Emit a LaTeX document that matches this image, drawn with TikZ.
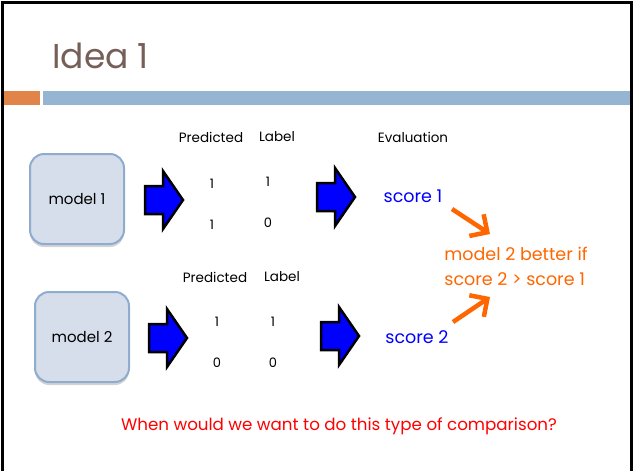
\documentclass[tikz,border=0pt]{standalone}
\usepackage{fontspec}
\setmainfont{Poppins}
\usetikzlibrary{shapes, arrows.meta, positioning, shadows}
\definecolor{titlegray}{RGB}{118,95,88}
\definecolor{barorange}{RGB}{224,132,74}
\definecolor{barblue}{RGB}{149,181,211}
\definecolor{boxfill}{RGB}{213,222,234}
\definecolor{boxline}{RGB}{143,172,206}
\definecolor{scoreblue}{RGB}{0,0,255}
\definecolor{noteorange}{RGB}{255,102,0}
\definecolor{askred}{RGB}{255,0,0}
\tikzstyle{model} = [draw=boxline, line width=2pt, fill=boxfill,
    rounded corners=14pt, minimum width=94pt, minimum height=90pt,
    drop shadow={shadow xshift=0pt, shadow yshift=-3pt, opacity=0.35},
    font=\fontsize{15}{17}\selectfont]
\tikzset{blockarrow/.pic={
    \draw [line width=2.5pt, fill=blue, line join=miter]
        (-19,-14) -- (-1,-14) -- (-1,-29) -- (19,0) -- (-1,29) -- (-1,14)
        -- (-19,14) -- cycle;
}}
\tikzstyle{head} = [font=\fontsize{13.5}{15}\selectfont]
\tikzstyle{val} = [font=\fontsize{13}{15}\selectfont]
\tikzstyle{score} = [text=scoreblue, font=\fontsize{17.5}{20}\selectfont]
\tikzstyle{note} = [text=noteorange, font=\fontsize{17.5}{25}\selectfont, align=left]
\tikzstyle{better} = [draw=noteorange, line width=4.5pt,
    -{Straight Barb[length=13pt,width=26pt]}]

\begin{document}
\begin{tikzpicture}[x=1pt, y=-1pt, >=latex]
    \useasboundingbox (0,0) rectangle (634,471);
    % slide frame and title bar
    \draw [line width=3pt] (2.5,471) -- (2.5,2.5) -- (631.5,2.5) -- (631.5,471);
    \fill [barorange] (4,91) rectangle (40,105);
    \fill [barblue] (43,91) rectangle (630,105);
    \node [anchor=base west, text=titlegray, font=\fontsize{34.5}{40}\selectfont,
        inner sep=0pt] (title) at (52,68) {Idea 1};

    % first model
    \node [model] (m1) at (77,199) {model 1};
    \pic (a1) at (164,200) {blockarrow};
    \node [head] (p1) at (211,137) {Predicted};
    \node [head] (l1) at (277,137) {Label};
    \node [val] (p1a) at (212,184) {1};
    \node [val] (l1a) at (268,182) {1};
    \node [val] (p1b) at (212,225) {1};
    \node [val] (l1b) at (268,223) {0};
    \pic (a2) at (336,197) {blockarrow};
    \node [head] (ev) at (413,137) {Evaluation};
    \node [score] (s1) at (413,196) {score 1};

    % second model
    \node [model] (m2) at (82,337) {model 2};
    \pic (a3) at (168,338) {blockarrow};
    \node [head] (p2) at (215,277) {Predicted};
    \node [head] (l2) at (282,277) {Label};
    \node [val] (p2a) at (217,322) {1};
    \node [val] (l2a) at (273,322) {1};
    \node [val] (p2b) at (217,363) {0};
    \node [val] (l2b) at (273,363) {0};
    \pic (a4) at (340,336) {blockarrow};
    \node [score] (s2) at (417,337) {score 2};

    % comparison
    \node [note] (cmp) at (516,266) {model 2 better if\\score 2 > score 1};
    \coordinate (c1) at (452,209);
    \coordinate (t1) at (490,234);
    \coordinate (c2) at (453,322);
    \coordinate (t2) at (490,297);
    \draw [better] (c1) -- (t1);
    \draw [better] (c2) -- (t2);

    \node [text=askred, font=\fontsize{16.7}{19}\selectfont] (ask) at (339,426)
        {When would we want to do this type of comparison?};
\end{tikzpicture}
\end{document}
